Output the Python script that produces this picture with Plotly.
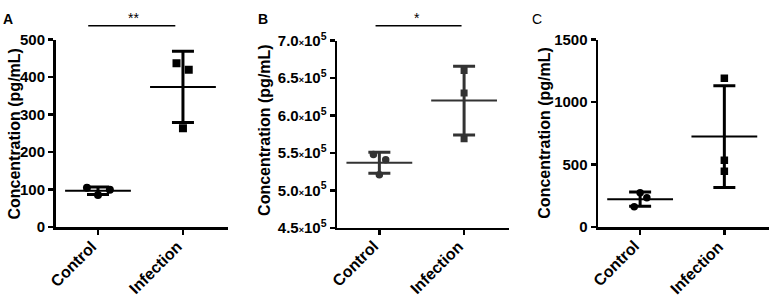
import plotly.graph_objects as go

# ---------------- data ----------------
categories = ["Control", "Infection"]

a_control = [105, 86, 100]
a_infection = [437, 420, 264]
a_mean = [97, 374]
a_sd = [10, 95]

b_control = [5.48e5, 5.41e5, 5.21e5]
b_infection = [6.60e5, 6.30e5, 5.69e5]
b_mean = [5.37e5, 6.20e5]
b_sd = [0.14e5, 0.46e5]

c_control = [275, 235, 163]
c_infection = [1192, 535, 448]
c_mean = [224, 725]
c_sd = [57, 407]

a_ticks = [0, 100, 200, 300, 400, 500]
b_ticks = [4.5e5, 5.0e5, 5.5e5, 6.0e5, 6.5e5, 7.0e5]
b_tick_mantissa = ["4.5", "5.0", "5.5", "6.0", "6.5", "7.0"]
c_ticks = [0, 500, 1000, 1500]

panel_letters = ["A", "B", "C"]
sig_marks = ["**", "*", ""]
y_title = "Concentration (pg/mL)"

# ---------------- style / layout ----------------
FONT = "Liberation Sans, Arial, sans-serif"
W, H = 770, 297

def px_x(p):
    return p / W

def px_y(p):
    return (H - p) / H

# jitter offsets (in category units) for dot placement
jit = {
    "a": ([-0.13, 0.0, 0.14], [-0.076, 0.068, 0.0]),
    "b": ([-0.07, 0.075, 0.0], [0.0, 0.0, 0.0]),
    "c": ([0.0, 0.08, -0.07], [0.0, 0.0, 0.0]),
}

panels = [
    dict(key="a", ctrl=a_control, inf=a_infection, mean=a_mean, sd=a_sd,
         color="#000000", ms_c=8, ms_i=8,
         xdom=[55.5 / W, 228 / W], ydom=[66 / H, 266.3 / H],
         yrange=[0, 500], tickvals=a_ticks, ticktext=[str(t) for t in a_ticks]),
    dict(key="b", ctrl=b_control, inf=b_infection, mean=b_mean, sd=b_sd,
         color="#333333", ms_c=7.5, ms_i=7,
         xdom=[337 / W, 509 / W], ydom=[65.3 / H, 265.3 / H],
         yrange=[4.5e5, 7.0e5], tickvals=b_ticks,
         ticktext=[m + "<span style='font-size:9px'>×</span>10<sup>5</sup>" for m in b_tick_mantissa]),
    dict(key="c", ctrl=c_control, inf=c_infection, mean=c_mean, sd=c_sd,
         color="#000000", ms_c=7.5, ms_i=7.5,
         xdom=[598 / W, 769 / W], ydom=[66 / H, 266.3 / H],
         yrange=[0, 1500], tickvals=c_ticks, ticktext=[str(t) for t in c_ticks]),
]

fig = go.Figure()
layout_axes = {}
annotations = []
shapes = []

for i, p in enumerate(panels):
    n = "" if i == 0 else str(i + 1)
    xa, ya = "x" + n, "y" + n
    jc, ji = jit[p["key"]]
    fig.add_trace(go.Scatter(
        x=[0 + o for o in jc], y=p["ctrl"], mode="markers", xaxis=xa, yaxis=ya,
        marker=dict(symbol="circle", size=p["ms_c"], color=p["color"]),
        showlegend=False, hoverinfo="y"))
    fig.add_trace(go.Scatter(
        x=[1 + o for o in ji], y=p["inf"], mode="markers", xaxis=xa, yaxis=ya,
        marker=dict(symbol="square", size=p["ms_i"], color=p["color"]),
        showlegend=False, hoverinfo="y"))
    fig.add_trace(go.Scatter(
        x=[0, 1], y=p["mean"], mode="markers", xaxis=xa, yaxis=ya,
        marker=dict(symbol="line-ew", size=47, color=p["color"],
                    line=dict(width=2, color=p["color"])),
        error_y=dict(type="data", array=p["sd"], visible=True, color=p["color"],
                     thickness=3, width=11),
        showlegend=False, hoverinfo="y"))

    layout_axes["xaxis" + n] = dict(
        domain=p["xdom"], range=[-0.5, 1.53], anchor=ya,
        tickvals=[0, 1], showticklabels=False,
        showline=True, linecolor="black", linewidth=2.5,
        ticks="outside", ticklen=5, tickwidth=2.5, tickcolor="black",
        showgrid=False, zeroline=False, fixedrange=True)
    layout_axes["yaxis" + n] = dict(
        domain=p["ydom"], range=p["yrange"], anchor=xa,
        tickvals=p["tickvals"], ticktext=p["ticktext"],
        showline=True, linecolor="black", linewidth=2.5,
        ticks="outside", ticklen=5, tickwidth=2.5, tickcolor="black",
        showgrid=False, zeroline=False,
        tickfont=dict(family=FONT, size=15, color="black", weight="bold"),
        fixedrange=True)

    # rotated category labels, top-right corner just under each tick
    for ci, cat in enumerate(categories):
        annotations.append(dict(
            text=cat, xref=xa, yref="paper", x=ci, xshift=5, y=px_y(239),
            showarrow=False, textangle=-45, xanchor="right", yanchor="top",
            font=dict(family=FONT, size=16, color="black", weight="bold")))

fig.update_layout(**layout_axes)

# panel letters
for letter, xp in zip(panel_letters, [8, 263, 537]):
    annotations.append(dict(text=letter, x=px_x(xp), y=px_y(9), xref="paper", yref="paper",
                            showarrow=False, xanchor="center", yanchor="middle",
                            font=dict(family=FONT, size=14, color="black",
                                      weight="bold" if letter != "C" else "normal")))

# y-axis titles
for xp, yp in zip([15, 265, 545], [131, 127, 130]):
    annotations.append(dict(text=y_title, x=px_x(xp), y=px_y(yp), xref="paper", yref="paper",
                            showarrow=False, textangle=-90, xanchor="center", yanchor="middle",
                            font=dict(family=FONT, size=16, color="black", weight="bold")))

# significance bars
sig_specs = [("x", -0.115, 0.91, 0.415), ("x2", -0.045, 0.97, 0.44)]
for (xr, x0, x1, xm), mark in zip(sig_specs, sig_marks):
    shapes.append(dict(type="line", xref=xr, yref="paper", x0=x0, x1=x1,
                       y0=px_y(15.7), y1=px_y(15.7), line=dict(color="black", width=1.5)))
    annotations.append(dict(text=mark, xref=xr, yref="paper", x=xm, y=px_y(8),
                            showarrow=False, xanchor="center", yanchor="middle",
                            font=dict(family=FONT, size=14, color="black")))

fig.update_layout(
    width=W, height=H, margin=dict(l=0, r=0, t=0, b=0),
    paper_bgcolor="white", plot_bgcolor="white",
    annotations=annotations, shapes=shapes, showlegend=False,
    font=dict(family=FONT, color="black"),
)

fig.write_html(
    "out.html",
    config={"displayModeBar": False, "staticPlot": True},
    post_script="document.body.style.margin='0';document.body.style.overflow='hidden';",
)
